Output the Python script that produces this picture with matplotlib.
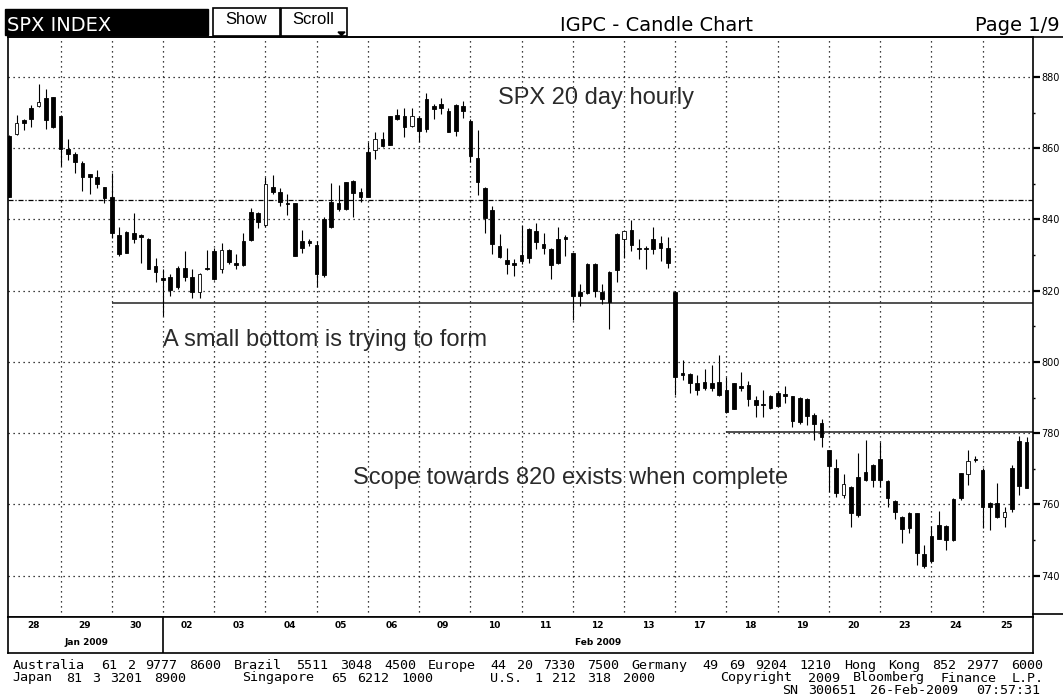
import re

import matplotlib
import matplotlib.pyplot as plt
from matplotlib.lines import Line2D
from matplotlib.patches import Rectangle, Polygon

matplotlib.use("Agg")

W, H = 1063, 700

# SPX hourly candles, 7 bars per session, 20 sessions (28 Jan - 25 Feb 2009)
opens = [
    863.5, 864.0, 867.9, 871.4, 871.9, 874.0, 874.3,
    869.1, 859.8, 858.3, 855.8, 852.7, 851.8, 849.0,
    846.4, 835.7, 836.5, 836.2, 835.6, 834.5, 826.8,
    823.6, 823.7, 826.5, 826.5, 823.7, 819.6, 826.5,
    831.0, 826.0, 831.5, 827.9, 834.0, 842.0, 841.8,
    838.5, 849.2, 847.8, 844.7, 844.5, 833.9, 833.8,
    832.7, 840.0, 845.0, 844.5, 850.5, 850.8, 847.8,
    858.9, 859.4, 862.6, 869.0, 869.3, 869.1, 866.3,
    868.4, 873.7, 871.9, 872.4, 870.4, 872.0, 871.9,
    867.7, 857.3, 848.7, 842.7, 832.5, 828.6, 827.9,
    829.9, 837.4, 836.7, 833.0, 831.8, 834.6, 834.8,
    830.5, 819.7, 827.6, 827.4, 819.7, 825.3, 836.0,
    834.6, 837.1, 832.0, 832.0, 834.6, 833.4, 832.0,
    819.6, 796.9, 796.7, 794.1, 794.5, 794.1, 794.4,
    792.2, 794.0, 793.3, 793.4, 789.4, 788.2, 790.4,
    791.4, 791.0, 790.5, 790.0, 789.6, 785.1, 782.8,
    775.3, 770.3, 762.6, 764.9, 767.7, 769.1, 771.0,
    772.8, 766.6, 761.0, 756.6, 757.7, 757.5, 746.1,
    751.0, 754.2, 754.0, 761.4, 768.7, 768.5, 772.6,
    769.6, 760.3, 760.3, 756.6, 770.3, 777.8, 777.5,
]
highs = [
    863.6, 869.2, 868.3, 872.0, 878.1, 876.5, 874.4,
    869.4, 862.6, 858.9, 856.3, 852.7, 854.0, 849.2,
    853.0, 838.0, 836.7, 841.8, 835.8, 834.8, 829.3,
    826.0, 824.6, 827.0, 831.1, 826.0, 825.0, 831.4,
    832.0, 833.4, 831.6, 830.2, 836.2, 843.2, 842.2,
    852.0, 852.4, 848.7, 847.1, 844.7, 837.1, 834.6,
    833.9, 840.8, 850.1, 849.6, 850.6, 851.0, 848.7,
    861.7, 864.4, 864.4, 869.1, 870.9, 871.2, 871.2,
    869.1, 875.6, 872.3, 874.2, 871.2, 872.3, 873.2,
    868.2, 865.1, 849.2, 843.8, 835.8, 832.0, 829.0,
    838.5, 837.6, 839.0, 836.2, 832.0, 837.9, 835.5,
    830.6, 821.9, 827.9, 827.9, 821.9, 825.6, 836.2,
    837.1, 839.9, 834.4, 832.6, 837.9, 835.3, 835.1,
    819.8, 800.6, 796.9, 796.4, 798.0, 799.2, 801.9,
    795.7, 794.1, 797.3, 794.7, 790.4, 792.2, 790.8,
    791.9, 793.3, 790.5, 790.1, 789.9, 785.6, 784.0,
    775.4, 772.8, 768.5, 765.1, 774.4, 778.1, 771.3,
    777.5, 766.8, 761.2, 756.7, 758.0, 757.7, 748.7,
    754.0, 758.2, 754.2, 761.7, 768.8, 775.2, 773.5,
    770.3, 760.7, 766.0, 759.3, 771.0, 779.3, 778.9,
]
lows = [
    846.2, 863.6, 865.0, 866.0, 871.6, 865.4, 865.6,
    855.0, 856.6, 852.9, 848.1, 847.1, 848.7, 844.5,
    834.8, 829.7, 830.5, 833.4, 827.9, 826.0, 822.5,
    813.0, 818.6, 820.5, 822.8, 817.8, 817.8, 825.8,
    823.0, 825.0, 827.5, 826.2, 826.8, 833.9, 837.6,
    838.0, 847.1, 843.8, 841.3, 829.7, 830.6, 832.5,
    820.9, 823.7, 837.6, 842.5, 842.7, 840.6, 845.0,
    846.2, 857.0, 860.3, 860.8, 868.0, 863.1, 865.8,
    861.7, 864.4, 868.2, 869.5, 864.4, 863.5, 868.6,
    856.1, 846.9, 836.2, 830.2, 829.3, 824.6, 824.0,
    827.4, 827.9, 831.6, 830.2, 823.3, 827.4, 829.7,
    811.7, 815.8, 819.1, 818.2, 816.3, 809.2, 822.3,
    829.3, 831.1, 828.8, 826.0, 830.2, 828.3, 826.5,
    790.8, 795.0, 791.3, 790.8, 792.2, 791.9, 790.4,
    785.8, 786.7, 791.8, 787.5, 784.4, 784.6, 786.7,
    787.3, 788.4, 781.7, 782.6, 782.4, 778.0, 776.1,
    763.5, 762.1, 761.7, 753.8, 756.6, 766.6, 764.9,
    764.9, 759.3, 755.8, 749.1, 752.1, 743.1, 742.1,
    743.5, 750.2, 747.3, 749.6, 761.2, 765.4, 771.9,
    753.3, 752.8, 756.1, 753.8, 758.0, 762.6, 764.5,
]
closes = [
    846.4, 867.1, 867.2, 868.1, 873.0, 867.9, 866.0,
    859.8, 858.3, 856.1, 852.0, 852.0, 849.9, 846.0,
    836.2, 830.4, 830.7, 834.6, 835.0, 826.2, 825.1,
    823.0, 820.3, 821.0, 823.7, 819.6, 824.8, 826.0,
    823.3, 831.3, 828.0, 827.3, 827.1, 834.2, 839.2,
    849.9, 847.8, 845.0, 844.2, 829.8, 832.0, 833.4,
    824.6, 824.3, 837.9, 842.9, 843.0, 847.5, 846.4,
    846.4, 862.6, 860.6, 861.0, 868.1, 866.0, 869.1,
    864.7, 865.4, 870.9, 871.4, 864.6, 864.9, 870.5,
    857.7, 850.6, 840.4, 833.0, 829.5, 827.4, 827.2,
    828.3, 829.3, 833.6, 831.9, 827.1, 827.9, 834.6,
    818.4, 818.6, 819.4, 820.0, 817.7, 816.8, 825.8,
    836.7, 832.7, 831.6, 831.6, 831.6, 832.0, 827.9,
    795.9, 796.4, 794.1, 792.2, 792.7, 792.7, 790.6,
    786.0, 786.9, 792.8, 789.7, 787.9, 787.9, 787.1,
    787.7, 790.5, 783.5, 783.0, 784.9, 782.6, 778.9,
    770.7, 763.3, 765.7, 757.5, 757.0, 766.8, 766.8,
    766.8, 761.7, 758.0, 753.0, 753.3, 746.3, 742.6,
    744.0, 750.4, 750.0, 749.9, 761.7, 772.2, 772.4,
    759.3, 759.3, 756.6, 758.0, 758.6, 765.1, 764.7,
]

days = ["28", "29", "30", "02", "03", "04", "05", "06", "09", "10",
        "11", "12", "13", "17", "18", "19", "20", "23", "24", "25"]
months = ["Jan 2009", "Feb 2009"]
month_first_day = [0, 3]
price_ticks = [740, 760, 780, 800, 820, 840, 860, 880]
minor_ticks = [750, 770, 790, 810, 830, 850, 870]

old_level = 845.5      # dash-dot reference line
support = 816.4        # "small bottom" line, drawn from 02 Feb
resistance = 780.3     # neckline, drawn from 18 Feb

footer = [
    "Australia 61 2 9777 8600 Brazil 5511 3048 4500 Europe 44 20 7330 7500 "
    "Germany 49 69 9204 1210 Hong Kong 852 2977 6000",
    "Japan 81 3 3201 8900      Singapore 65 6212 1000      U.S. 1 212 318 2000"
    "       Copyright 2009 Bloomberg Finance L.P.",
    " " * 87 + "SN 300651 26-Feb-2009 07:57:31",
]

bars_per_day = 7
n = len(opens)


def fx(x):
    return x / W


def fy(y):
    return 1 - y / H


fig = plt.figure(figsize=(W / 100, H / 100), dpi=100)
fig.patch.set_facecolor("white")

# price panel
ax = fig.add_axes([fx(8.4), fy(617), fx(1033) - fx(8.4), fy(37) - fy(617)])
x = list(range(n))
bottoms = [min(o, c) for o, c in zip(opens, closes)]
heights = [max(abs(c - o), 0.35) for o, c in zip(opens, closes)]
faces = ["white" if c > o else "black" for o, c in zip(opens, closes)]
ax.vlines(x, lows, highs, color="black", lw=0.8, zorder=3)
ax.bar(x, heights, bottom=bottoms, width=0.5, color=faces,
       edgecolor="black", linewidth=0.6, zorder=4)

ax.set_xlim(-0.12, n - 0.12)
ax.set_ylim(728.4, 891.2)
ax.set_xticks([bars_per_day * d for d in range(1, len(days))])
ax.set_yticks(price_ticks)
ax.set_yticks(minor_ticks, minor=True)
ax.yaxis.tick_right()
ax.tick_params(axis="x", length=0, labelbottom=False)
ax.tick_params(axis="y", which="major", direction="out", length=5, width=1.6,
               labelsize=7, pad=1)
ax.tick_params(axis="y", which="minor", direction="out", length=1.5, width=1)
ax.grid(True, which="major", color="black", linestyle=(0, (1, 3)), lw=0.9)
for s in ax.spines.values():
    s.set_color("black")
    s.set_linewidth(1.2)

ax.axhline(old_level, color="black", lw=0.9, linestyle=(0, (4, 1.5, 1, 1.5)), zorder=2)
ax.hlines(support, 2 * bars_per_day, n, color="#222222", lw=1.1, zorder=2)
ax.hlines(resistance, 14 * bars_per_day, n, color="#222222", lw=1.1, zorder=2)

# annotations
txt = dict(family="Liberation Sans", fontsize=17, color="#2a2a2a", va="baseline")
fig.text(fx(498), fy(104), "SPX 20 day hourly", **txt)
fig.text(fx(163), fy(346), "A small bottom is trying to form", **txt)
fig.text(fx(353), fy(484), "Scope towards 820 exists when complete", **txt)

# date band
bx = fig.add_axes([fx(8.4), fy(653), fx(1033) - fx(8.4), fy(617) - fy(653)])
bx.set_xlim(-0.12, n - 0.12)
bx.set_ylim(0, 1)
bx.set_xticks([])
bx.set_yticks([])
for s in bx.spines.values():
    s.set_color("black")
    s.set_linewidth(1.2)
for i, d in enumerate(days):
    bx.text(bars_per_day * i + 3.3, 0.76, d, ha="center", va="center",
            fontsize=6.5, fontweight="bold")
edges = [bars_per_day * m for m in month_first_day] + [n]
for i, m in enumerate(months):
    bx.text((edges[i] + edges[i + 1]) / 2, 0.3, m, ha="center", va="center",
            fontsize=6.5, fontweight="bold")
bx.axvline(edges[1], color="black", lw=1.2)

# frame bits outside the axes
fig.add_artist(Line2D([fx(8), 1], [fy(37), fy(37)], color="black", lw=1.2))
fig.add_artist(Line2D([fx(1033), 1], [fy(614), fy(614)], color="black", lw=1.2))

# header
fig.add_artist(Rectangle((fx(5), fy(35)), fx(208) - fx(5), fy(9) - fy(35),
                         facecolor="black", edgecolor="black"))
fig.text(fx(7), fy(31), "SPX INDEX", color="white", fontsize=14, va="baseline")
fig.add_artist(Rectangle((fx(213), fy(35.5)), fx(280) - fx(213), fy(8.5) - fy(35.5),
                         facecolor="white", edgecolor="black", lw=1.2))
fig.add_artist(Rectangle((fx(281), fy(35.5)), fx(347) - fx(281), fy(8.5) - fy(35.5),
                         facecolor="white", edgecolor="black", lw=1.2))
fig.text(fx(246), fy(24.5), "Show", family="Liberation Sans", fontsize=12,
         ha="center", va="baseline")
fig.text(fx(313.5), fy(24.5), "Scroll", family="Liberation Sans", fontsize=12,
         ha="center", va="baseline")
fig.add_artist(Polygon([(fx(338), fy(32)), (fx(345), fy(32)), (fx(341.5), fy(35.5))],
                       closed=True, color="black"))
fig.text(fx(560), fy(31), "IGPC - Candle Chart", fontsize=14, va="baseline")
fig.text(fx(975), fy(31), "Page 1/9", fontsize=14, va="baseline")

# footer: fixed-pitch columns, each word placed at its column
col_w = 8.84
for row, line in enumerate(footer):
    for mt in re.finditer(r"\S+", line):
        fig.text(fx(12.7 + mt.start() * col_w), fy(669 + 12.5 * row), mt.group(),
                 family="DejaVu Sans Mono", fontsize=9.6, va="baseline")

fig.savefig("out.png", dpi=100)
